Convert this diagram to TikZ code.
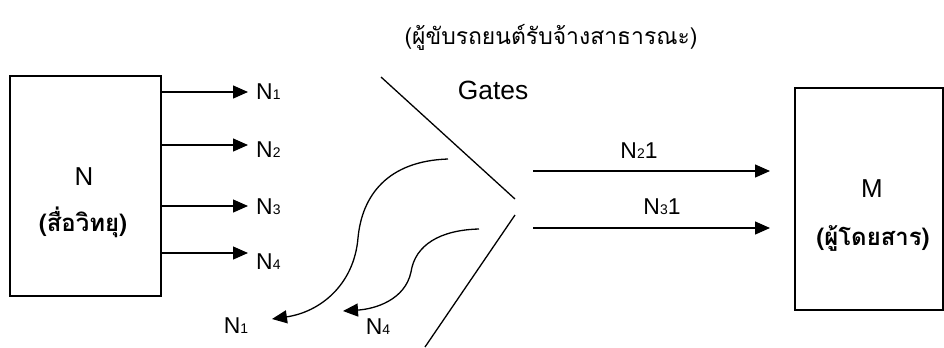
\documentclass[tikz,border=0pt]{standalone}
\usepackage{fontspec}
\setmainfont{Liberation Sans}
\newfontfamily\thaifont[Script=Thai]{Loma}
\usetikzlibrary{arrows.meta}
\tikzset{
  arr/.style={line width=1.3bp,-{Triangle[length=15bp,width=13bp]}},
  ln/.style={line width=1.3bp},
  boxn/.style={draw,line width=1.3bp,inner sep=0pt},
  lab/.style={inner sep=0pt,font=\fontsize{23}{26}\selectfont},
  thailab/.style={inner sep=0pt,font=\thaifont\bfseries\fontsize{24}{26}\selectfont},
}
\newcommand{\sub}[1]{{\fontsize{14}{16}\selectfont #1}}
\begin{document}
\begin{tikzpicture}[x=1bp,y=-1bp]
\useasboundingbox (0,0) rectangle (944,347);
% boxes
\node[boxn,minimum width=151bp,minimum height=220bp] (nbox) at (85.5,186) {};
\node[boxn,minimum width=148bp,minimum height=222bp] (mbox) at (869,199) {};
\node[inner sep=0pt,font=\fontsize{26}{28}\selectfont] (nlab) at (84,177) {N};
\node[thailab] (nthai) at (83,222) {(สื่อวิทยุ)};
\node[inner sep=0pt,font=\fontsize{26}{28}\selectfont] (mlab) at (872,189) {M};
\node[thailab] (mthai) at (873,238) {(ผู้โดยสาร)};
% title
\node[inner sep=0pt,font=\thaifont\fontsize{23}{26}\selectfont] (title) at (551,37) {(ผู้ขับรถยนต์รับจ้างสาธารณะ)};
\node[inner sep=0pt,font=\fontsize{26.5}{28}\selectfont] (gates) at (493,90) {Gates};
% left arrows
\coordinate (t1) at (248,92);
\coordinate (t2) at (248,145);
\coordinate (t3) at (248,206);
\coordinate (t4) at (248,253);
\draw[arr] (nbox.east |- t1) -- (t1);
\draw[arr] (nbox.east |- t2) -- (t2);
\draw[arr] (nbox.east |- t3) -- (t3);
\draw[arr] (nbox.east |- t4) -- (t4);
\node[lab,anchor=west] (l1) at (256,92) {N\sub{1}};
\node[lab,anchor=west] (l2) at (256,150) {N\sub{2}};
\node[lab,anchor=west] (l3) at (256,207) {N\sub{3}};
\node[lab,anchor=west] (l4) at (256,262) {N\sub{4}};
% gate lines
\coordinate (g1a) at (381,77);
\coordinate (g1b) at (515,199);
\coordinate (g2a) at (515,215);
\coordinate (g2b) at (425,347);
\draw[ln] (g1a) -- (g1b);
\draw[ln] (g2a) -- (g2b);
% return curves
\coordinate (c1s) at (448,159);
\coordinate (c1m) at (358,238);
\coordinate (c1e) at (272,319);
\draw[arr] (c1s) .. controls (388,161) and (362,195) .. (c1m)
  .. controls (354,285) and (320,312) .. (c1e);
\coordinate (c2s) at (479,229);
\coordinate (c2m) at (411,272);
\coordinate (c2e) at (343,311);
\draw[arr] (c2s) .. controls (440,230) and (415,245) .. (c2m)
  .. controls (405,300) and (375,309) .. (c2e);
\node[lab] (b1) at (236,326) {N\sub{1}};
\node[lab] (b4) at (378,327) {N\sub{4}};
% right arrows
\coordinate (r1s) at (533,171);
\coordinate (r2s) at (533,228);
\coordinate (r1e) at (770,171);
\coordinate (r2e) at (770,228);
\draw[arr] (r1s) -- (r1e);
\draw[arr] (r2s) -- (r2e);
\node[lab] (n21) at (639,151) {N\sub{2}1};
\node[lab] (n31) at (662,207) {N\sub{3}1};
\end{tikzpicture}
\end{document}
